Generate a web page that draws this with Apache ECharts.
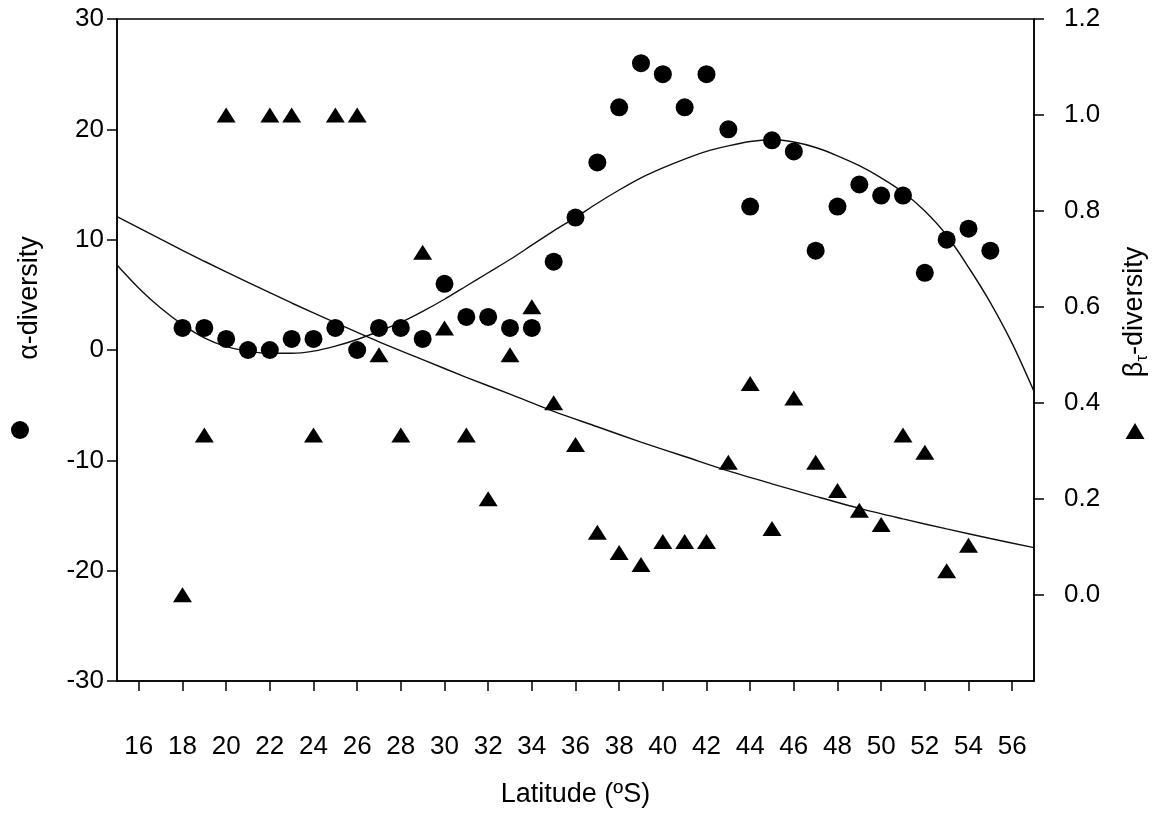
<!DOCTYPE html>
<html>
<head>
<meta charset="utf-8">
<script src="https://cdn.jsdelivr.net/npm/echarts@6/dist/echarts.min.js"></script>
<style>
  html, body { margin: 0; padding: 0; background: #fff; }
  #chart { width: 1163px; height: 829px; }
</style>
</head>
<body>
<div id="chart"></div>
<script>
// Species richness (alpha) per degree of latitude
const alphaLat = [18, 19, 20, 21, 22, 23, 24, 25, 26, 27, 28, 29, 30, 31, 32, 33, 34, 35, 36,
                  37, 38, 39, 40, 41, 42, 43, 44, 45, 46, 47, 48, 49, 50, 51, 52, 53, 54, 55];
const alphaVal = [2, 2, 1, 0, 0, 1, 1, 2, 0, 2, 2, 1, 6, 3, 3, 2, 2, 8, 12,
                  17, 22, 26, 25, 22, 25, 20, 13, 19, 18, 9, 13, 15, 14, 14, 7, 10, 11, 9];

// Turnover (beta_tau) per degree of latitude
const betaLat = [18, 19, 20, 22, 23, 24, 25, 26, 27, 28, 29, 30, 31, 32, 33, 34, 35, 36,
                 37, 38, 39, 40, 41, 42, 43, 44, 45, 46, 47, 48, 49, 50, 51, 52, 53, 54];
const betaVal = [0.0, 0.333, 1.0, 1.0, 1.0, 0.333, 1.0, 1.0, 0.5, 0.333, 0.714, 0.556, 0.333, 0.2, 0.5, 0.6, 0.4, 0.313,
                 0.13, 0.088, 0.063, 0.111, 0.111, 0.111, 0.276, 0.44, 0.138, 0.41, 0.276, 0.217, 0.176, 0.146, 0.333, 0.297, 0.05, 0.103];

// Fitted trend for alpha (polynomial fit)
const alphaFitLat = [15, 16, 17, 18, 19, 20, 21, 22, 23, 24, 25, 26, 27, 28, 29, 30, 31, 32, 33, 34, 35, 36,
                     37, 38, 39, 40, 41, 42, 43, 44, 45, 46, 47, 48, 49, 50, 51, 52, 53, 54, 55, 56, 57];
const alphaFitVal = [7.7, 5.6, 3.8, 2.3, 1.1, 0.3, -0.1, -0.3, -0.3, -0.1, 0.35, 0.95, 1.7, 2.5, 3.5, 4.6, 5.8, 7.0, 8.2, 9.5, 10.8, 12.0,
                     13.3, 14.5, 15.6, 16.5, 17.3, 18.0, 18.5, 18.9, 19.05, 18.85, 18.35, 17.6, 16.7, 15.6, 14.3, 12.6, 10.4, 7.5, 4.3, 0.6, -3.75];

// Fitted trend for beta_tau
const betaFitLat = [15, 17, 19, 21, 23, 25, 27, 29, 31, 33, 35, 37, 39, 41, 43, 45, 47, 49, 51, 53, 55, 57];
const betaFitVal = [0.788, 0.741, 0.695, 0.651, 0.608, 0.567, 0.527, 0.490, 0.453, 0.418, 0.382,
                    0.350, 0.318, 0.288, 0.258, 0.231, 0.205, 0.180, 0.158, 0.137, 0.117, 0.098];

// Axis tick labels
const latTicks = [16, 18, 20, 22, 24, 26, 28, 30, 32, 34, 36, 38, 40, 42, 44, 46, 48, 50, 52, 54, 56];
const betaTicks = [0, 0.2, 0.4, 0.6, 0.8, 1.0, 1.2];

const zip = (xs, ys) => xs.map((x, i) => [x, ys[i]]);

const FONT = "'Liberation Sans', Arial, sans-serif";
const NARROW = "'Liberation Sans Narrow', 'Arial Narrow', 'Liberation Sans', Arial, sans-serif";
const INK = '#000';

const chart = echarts.init(document.getElementById('chart'), null, { renderer: 'canvas' });

const axisLineStyle = { show: true, onZero: false, lineStyle: { color: INK, width: 1.5 } };
const tickStyle = { show: true, inside: false, length: 10, lineStyle: { color: INK, width: 1.5 } };
const tickFont = { color: INK, fontSize: 26, fontFamily: NARROW };

chart.setOption({
  animation: false,
  backgroundColor: '#fff',
  grid: {
    left: 117, right: 129, top: 19, bottom: 148,
    show: true, borderColor: INK, borderWidth: 1.5, backgroundColor: 'transparent'
  },
  xAxis: {
    type: 'value',
    min: 15, max: 57,
    axisLine: axisLineStyle,
    axisTick: Object.assign({ customValues: latTicks }, tickStyle),
    axisLabel: Object.assign({ customValues: latTicks, margin: 53 }, tickFont),
    splitLine: { show: false },
    name: 'Latitude (ºS)',
    nameLocation: 'middle',
    nameGap: 100,
    nameTextStyle: { color: INK, fontSize: 27, fontFamily: FONT, verticalAlign: 'top' }
  },
  yAxis: [
    {
      type: 'value',
      position: 'left',
      min: -30, max: 30, interval: 10,
      axisLine: axisLineStyle,
      axisTick: tickStyle,
      axisLabel: Object.assign({ margin: 13 }, tickFont),
      splitLine: { show: false }
    },
    {
      type: 'value',
      position: 'right',
      min: -0.18, max: 1.2,
      axisLine: axisLineStyle,
      axisTick: Object.assign({ customValues: betaTicks }, tickStyle),
      axisLabel: Object.assign({
        customValues: betaTicks, margin: 30,
        formatter: v => v.toFixed(1)
      }, tickFont),
      splitLine: { show: false }
    }
  ],
  series: [
    {
      name: 'alpha fit',
      type: 'line',
      yAxisIndex: 0,
      data: zip(alphaFitLat, alphaFitVal),
      smooth: 0.3,
      showSymbol: false,
      lineStyle: { color: '#111', width: 1.4 },
      z: 2
    },
    {
      name: 'beta fit',
      type: 'line',
      yAxisIndex: 1,
      data: zip(betaFitLat, betaFitVal),
      smooth: 0.3,
      showSymbol: false,
      lineStyle: { color: '#111', width: 1.4 },
      z: 2
    },
    {
      name: 'α-diversity',
      type: 'scatter',
      yAxisIndex: 0,
      data: zip(alphaLat, alphaVal),
      symbol: 'circle',
      symbolSize: 18,
      itemStyle: { color: INK, opacity: 1 },
      z: 3
    },
    {
      name: 'βτ-diversity',
      type: 'scatter',
      yAxisIndex: 1,
      data: zip(betaLat, betaVal),
      symbol: 'triangle',
      symbolSize: [19, 15],
      itemStyle: { color: INK, opacity: 1 },
      z: 3
    }
  ],
  graphic: [
    {
      type: 'text', x: 30, y: 298, rotation: Math.PI / 2,
      style: { text: 'α-diversity', fill: INK, font: '27px ' + FONT, textAlign: 'center', textVerticalAlign: 'middle' }
    },
    { type: 'circle', shape: { cx: 20, cy: 430, r: 9 }, style: { fill: INK } },
    {
      type: 'text', x: 1135, y: 312, rotation: Math.PI / 2,
      style: {
        text: '{b|β}{s|τ}{b|-diversity}',
        fill: INK, textAlign: 'center', textVerticalAlign: 'middle',
        rich: {
          b: { fontSize: 27, fontFamily: FONT, fill: INK, lineHeight: 32 },
          s: { fontSize: 17, fontFamily: FONT, fill: INK, lineHeight: 32, padding: [14, 0, 0, 0] }
        }
      }
    },
    { type: 'polygon', shape: { points: [[1135, 423], [1125.5, 439], [1144.5, 439]] }, style: { fill: INK } }
  ]
});
</script>
</body>
</html>
